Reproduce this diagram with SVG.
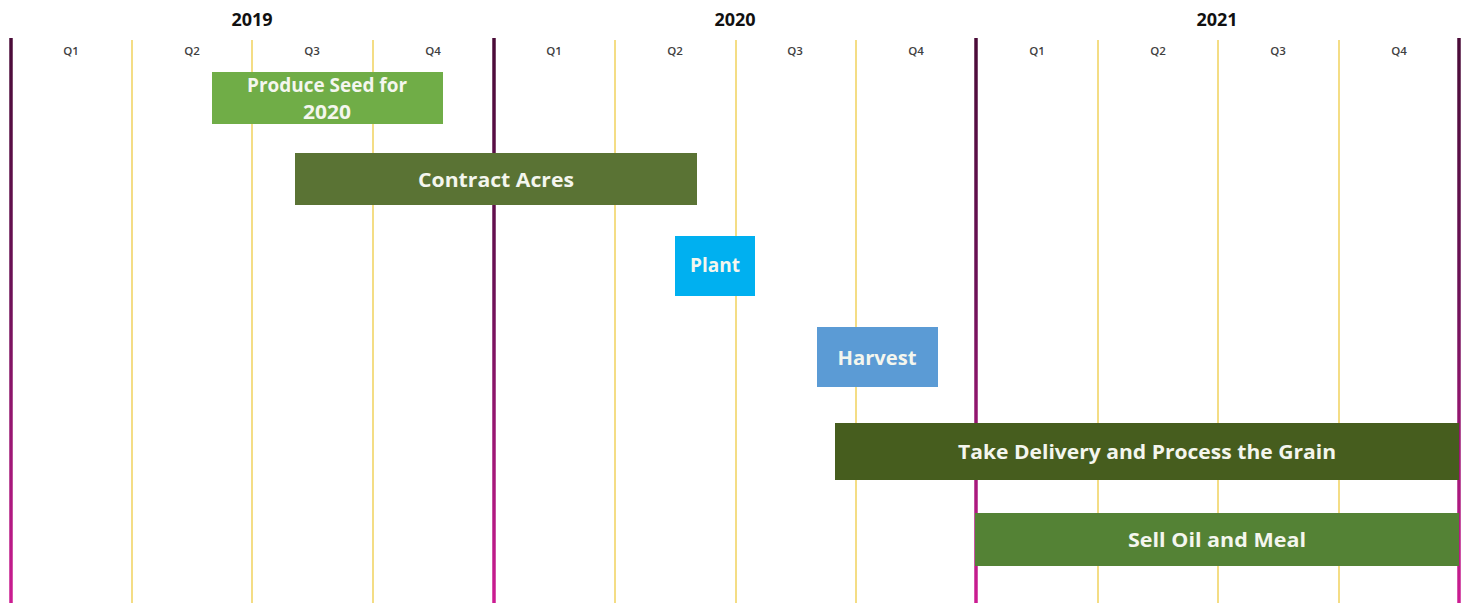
<svg xmlns="http://www.w3.org/2000/svg" width="1469" height="603" viewBox="0 0 1469 603">
<defs>
<linearGradient id="yearGrad" gradientUnits="userSpaceOnUse" x1="0" y1="38" x2="0" y2="603">
<stop offset="0" stop-color="#4a0c38"/>
<stop offset="0.45" stop-color="#6d1157"/>
<stop offset="1" stop-color="#cc1c92"/>
</linearGradient>
<style>
.year{stroke:url(#yearGrad);stroke-width:3.5;fill:none}
.qline{stroke:#f0d25c;stroke-width:1.5;fill:none}
.yl{font-family:"Open Sans","Liberation Sans",sans-serif;font-weight:bold;font-size:18px;fill:#111;text-anchor:middle}
.ql{font-family:"Open Sans","Liberation Sans",sans-serif;font-weight:600;font-size:11.5px;fill:#404040;text-anchor:middle}
.bt{font-family:"Open Sans","Liberation Sans",sans-serif;font-weight:bold;font-size:19px;fill:#f4f6ee;text-anchor:middle}
</style>
</defs>
<rect width="1469" height="603" fill="#ffffff"/>
<g id="grid">
<line class="qline" x1="132" y1="40" x2="132" y2="603"/>
<line class="qline" x1="252" y1="40" x2="252" y2="603"/>
<line class="qline" x1="373" y1="40" x2="373" y2="603"/>
<line class="qline" x1="615" y1="40" x2="615" y2="603"/>
<line class="qline" x1="736" y1="40" x2="736" y2="603"/>
<line class="qline" x1="856" y1="40" x2="856" y2="603"/>
<line class="qline" x1="1098" y1="40" x2="1098" y2="603"/>
<line class="qline" x1="1218" y1="40" x2="1218" y2="603"/>
<line class="qline" x1="1339" y1="40" x2="1339" y2="603"/>
<line class="year" x1="11" y1="38" x2="11" y2="603"/>
<line class="year" x1="494" y1="38" x2="494" y2="603"/>
<line class="year" x1="976" y1="38" x2="976" y2="603"/>
<line class="year" x1="1459" y1="38" x2="1459" y2="603"/>
</g>
<g id="labels">
<text class="yl" x="252" y="26">2019</text>
<text class="yl" x="735" y="26">2020</text>
<text class="yl" x="1217" y="26">2021</text>
<text class="ql" x="71" y="55">Q1</text>
<text class="ql" x="192" y="55">Q2</text>
<text class="ql" x="312" y="55">Q3</text>
<text class="ql" x="433" y="55">Q4</text>
<text class="ql" x="554" y="55">Q1</text>
<text class="ql" x="675" y="55">Q2</text>
<text class="ql" x="795" y="55">Q3</text>
<text class="ql" x="916" y="55">Q4</text>
<text class="ql" x="1037" y="55">Q1</text>
<text class="ql" x="1158" y="55">Q2</text>
<text class="ql" x="1278" y="55">Q3</text>
<text class="ql" x="1399" y="55">Q4</text>
</g>
<g id="produce-seed">
<rect x="212" y="72" width="231" height="52" fill="#70ad47"/>
<text class="bt" x="327" y="92" font-size="17" textLength="160" lengthAdjust="spacingAndGlyphs">Produce Seed for</text>
<text class="bt" x="327" y="119" font-size="17" textLength="48" lengthAdjust="spacingAndGlyphs">2020</text>
</g>
<g id="contract-acres">
<rect x="295" y="153" width="402" height="52" fill="#5a7334"/>
<text class="bt" x="496" y="187" textLength="156" lengthAdjust="spacingAndGlyphs">Contract  Acres</text>
</g>
<g id="plant">
<rect x="675" y="236" width="80" height="60" fill="#00b0f0"/>
<text class="bt" x="715" y="272" textLength="50" lengthAdjust="spacingAndGlyphs">Plant</text>
</g>
<g id="harvest">
<rect x="817" y="327" width="121" height="60" fill="#5b9bd5"/>
<text class="bt" x="877" y="365" textLength="79" lengthAdjust="spacingAndGlyphs">Harvest</text>
</g>
<g id="take-delivery">
<rect x="835" y="423" width="624" height="57" fill="#465d1e"/>
<text class="bt" x="1147" y="459" font-size="20" textLength="378" lengthAdjust="spacingAndGlyphs">Take Delivery and Process the Grain</text>
</g>
<g id="sell-oil">
<rect x="975" y="513" width="484" height="53" fill="#548235"/>
<text class="bt" x="1217" y="547" font-size="20" textLength="178" lengthAdjust="spacingAndGlyphs">Sell Oil and Meal</text>
</g>
<g id="connectors"></g>
</svg>
